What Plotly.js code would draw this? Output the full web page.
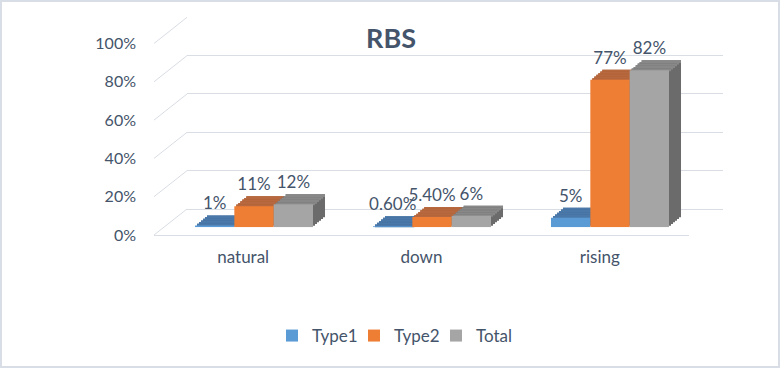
<!DOCTYPE html>
<html>
<head>
<meta charset="utf-8">
<script src="https://cdn.plot.ly/plotly-3.0.1.min.js"></script>
<style>html,body{margin:0;padding:0;background:#fff;}#chart{width:780px;height:368px;}</style>
</head>
<body>
<div id="chart"></div>
<script>
// ---- data ----
const categories = ['natural', 'down', 'rising'];
const seriesNames = ['Type1', 'Type2', 'Total'];
const type1 = [0.01, 0.006, 0.05];
const type2 = [0.11, 0.054, 0.77];
const total = [0.12, 0.06, 0.82];
const type1Labels = ['1%', '0.60%', '5%'];
const type2Labels = ['11%', '5.40%', '77%'];
const totalLabels = ['12%', '6%', '82%'];
const yTicks = [0, 0.2, 0.4, 0.6, 0.8, 1];
const yTickText = ['0%', '20%', '40%', '60%', '80%', '100%'];

// ---- styling / geometry ----
const W = 780, H = 368;
const FONT = 'Lato, "Open Sans", sans-serif';
const TXT = '#44546a';
const GRID = '#d9dde4';
const frontColors = ['#5b9bd5', '#ef7e35', '#a5a5a5'];
const topColors = ['#4a79a9', '#b8683e', '#888888'];
const sideColors = ['#3e6a98', '#a4582c', '#6b6b6b'];
const BAR = {x0: 165, x1: 699, yb: 227.3, yt: 35.8};
const FRONT = {x0: 154, x1: 689, yb: 235, yt: 43.5};
const BACK = {x0: 187, x1: 723, yb: 209, yt: 17.3};
const DEPTH = {dx: 12, dy: 10};
const N = 6;
const LABEL_LIFT = -1;
const NEG = 0.03;   // extra room below zero in depth layers (data units)

const values = [type1, type2, total];
const labels = [type1Labels, type2Labels, totalLabels];
const xd = (a, b) => [a / W, b / W];
const yd = (yb, yt) => [1 - yb / H, 1 - yt / H];
const axName = i => (i === 1 ? '' : String(i));
const pxPerUnit = BAR.yb - BAR.yt;

const layout = {
  width: W, height: H,
  margin: {l: 0, r: 0, t: 0, b: 0},
  paper_bgcolor: '#ffffff',
  plot_bgcolor: 'rgba(0,0,0,0)',
  barmode: 'group', bargap: 0.337, bargroupgap: 0,
  font: {family: FONT, color: TXT, size: 16},
  title: {text: '<b>RBS</b>', x: 391 / W, xanchor: 'center', y: 1 - 39 / H, yanchor: 'middle',
          yref: 'paper', font: {family: FONT, size: 27, color: TXT}},
  showlegend: true,
  legend: {orientation: 'h', x: 395 / W, xanchor: 'center', y: 1 - 336 / H, yanchor: 'middle',
           font: {family: FONT, size: 17, color: TXT}, itemwidth: 30, entrywidth: 37,
           bgcolor: 'rgba(0,0,0,0)'},
  shapes: [],
};

const traces = [];

// back wall (gridlines) : subplot 1
layout.xaxis = {domain: xd(BACK.x0, BACK.x1), anchor: 'y', type: 'category', range: [-0.5, 2.5], showgrid: false,
                zeroline: false, showline: false, showticklabels: false, ticks: ''};
layout.yaxis = {domain: yd(BACK.yb, BACK.yt), anchor: 'x', range: [0, 1], tickmode: 'array', tickvals: yTicks,
                showgrid: true, gridcolor: GRID, gridwidth: 1, zeroline: true, zerolinecolor: GRID,
                showticklabels: false, ticks: '', showline: false};
traces.push({type: 'scatter', mode: 'markers', x: categories, y: categories.map(() => null),
             xaxis: 'x', yaxis: 'y', showlegend: false, hoverinfo: 'skip', marker: {opacity: 0}});
// front plane (tick labels, floor line) : subplot 2
layout.xaxis2 = {domain: xd(FRONT.x0, FRONT.x1), anchor: 'y2', type: 'category', range: [-0.5, 2.5],
                 tickmode: 'array', tickvals: categories, ticktext: categories,
                 showgrid: false, zeroline: false,
                 showline: true, linecolor: GRID, linewidth: 1, ticks: '', ticklabelstandoff: 7,
                 tickfont: {family: FONT, size: 17, color: TXT}};
layout.yaxis2 = {domain: yd(FRONT.yb, FRONT.yt), anchor: 'x2', range: [0, 1], tickmode: 'array',
                 tickvals: yTicks, ticktext: yTickText, showgrid: false, zeroline: false, showline: false,
                 ticks: '', ticklabelstandoff: 17, tickfont: {family: FONT, size: 16, color: TXT}};
traces.push({type: 'scatter', mode: 'markers', x: categories, y: categories.map(() => null),
             xaxis: 'x2', yaxis: 'y2', showlegend: false, hoverinfo: 'skip', marker: {opacity: 0}});

// diagonal gridline connectors between front plane and back wall
yTicks.forEach(v => {
  const yf = FRONT.yb - v * (FRONT.yb - FRONT.yt);
  const yb = BACK.yb - v * (BACK.yb - BACK.yt);
  layout.shapes.push({type: 'line', xref: 'paper', yref: 'paper', layer: 'below',
    x0: FRONT.x0 / W, y0: 1 - yf / H, x1: BACK.x0 / W, y1: 1 - yb / H,
    line: {color: GRID, width: 1}});
});
// chart border
layout.shapes.push({type: 'rect', xref: 'paper', yref: 'paper', x0: 1 / W, x1: 1 - 1 / W, y0: 1 / H, y1: 1 - 1 / H,
  line: {color: '#d9dde6', width: 2}, fillcolor: 'rgba(0,0,0,0)', layer: 'below'});

const thick = (DEPTH.dy / N + 1.0) / pxPerUnit;

// depth layers (far -> near)
let id = 3;
for (let k = N; k >= 1; k--, id++) {
  const dx = DEPTH.dx * k / N, dy = DEPTH.dy * k / N;
  const s = axName(id);
  const negPx = NEG * pxPerUnit;
  layout['xaxis' + s] = {domain: xd(BAR.x0 + dx, BAR.x1 + dx), anchor: 'y' + s, type: 'category',
                         range: [-0.5, 2.5], visible: false};
  layout['yaxis' + s] = {domain: yd(BAR.yb - dy + negPx, BAR.yt - dy), anchor: 'x' + s, range: [-NEG, 1], visible: false};
  values.forEach((vals, j) => {
    traces.push({type: 'bar', x: categories, y: vals, xaxis: 'x' + s, yaxis: 'y' + s,
      offsetgroup: String(j), marker: {color: sideColors[j], line: {width: 0}},
      showlegend: false, hoverinfo: 'skip'});
  });
  values.forEach((vals, j) => {
    const base = vals.map(v => v - thick);
    traces.push({type: 'bar', x: categories, y: vals.map((v, i) => v - base[i]), base: base,
      xaxis: 'x' + s, yaxis: 'y' + s, offsetgroup: String(j),
      marker: {color: topColors[j], line: {width: 0}}, showlegend: false, hoverinfo: 'skip'});
  });
}

// front faces
{
  const s = axName(id);
  layout['xaxis' + s] = {domain: xd(BAR.x0, BAR.x1), anchor: 'y' + s, type: 'category', range: [-0.5, 2.5], visible: false};
  layout['yaxis' + s] = {domain: yd(BAR.yb, BAR.yt), anchor: 'x' + s, range: [0, 1], visible: false};
  values.forEach((vals, j) => {
    traces.push({type: 'bar', name: seriesNames[j], x: categories, y: vals, xaxis: 'x' + s, yaxis: 'y' + s,
      offsetgroup: String(j), marker: {color: frontColors[j], line: {width: 0}}, showlegend: true});
  });
  id++;
}
// data labels
{
  const s = axName(id);
  layout['xaxis' + s] = {domain: xd(BAR.x0, BAR.x1), anchor: 'y' + s, type: 'category', range: [-0.5, 2.5], visible: false};
  layout['yaxis' + s] = {domain: yd(BAR.yb - DEPTH.dy - LABEL_LIFT, BAR.yt - DEPTH.dy - LABEL_LIFT), anchor: 'x' + s, range: [0, 1], visible: false};
  values.forEach((vals, j) => {
    traces.push({type: 'bar', x: categories, y: vals, xaxis: 'x' + s, yaxis: 'y' + s,
      offsetgroup: String(j), marker: {color: 'rgba(0,0,0,0)', line: {width: 0}},
      text: labels[j], textposition: 'outside', constraintext: 'none', cliponaxis: false,
      textfont: {family: FONT, size: 17, color: TXT}, showlegend: false, hoverinfo: 'skip'});
  });
}

Plotly.newPlot('chart', traces, layout, {staticPlot: true, displayModeBar: false});
</script>
</body>
</html>
